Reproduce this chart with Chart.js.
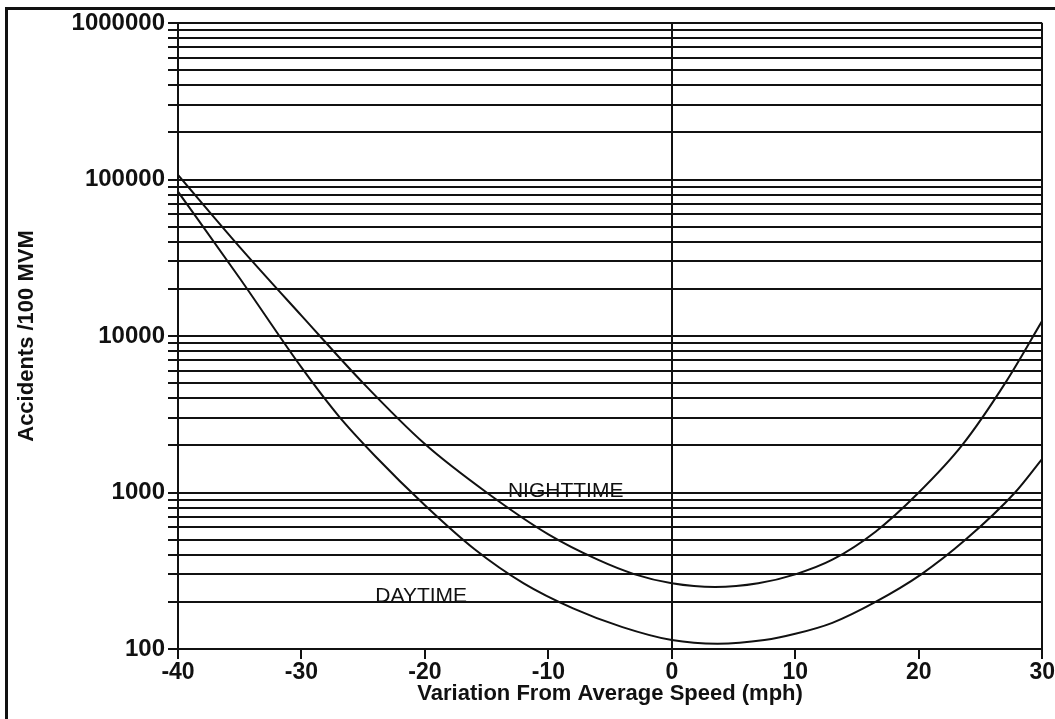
<!DOCTYPE html>
<html>
<head>
<meta charset="utf-8">
<title>Accidents vs speed variation</title>
<script src="https://cdn.jsdelivr.net/npm/chart.js@4.4.1/dist/chart.umd.min.js"></script>
<style>
  html, body { margin: 0; padding: 0; background: #fff; }
  #wrap { position: relative; width: 1055px; height: 719px; overflow: hidden; }
  #frame { position: absolute; left: 5px; top: 7px; width: 1100px; height: 800px;
           border-left: 3px solid #111; border-top: 3px solid #111; pointer-events: none; }
  canvas { display: block; }
</style>
</head>
<body>
<div id="wrap">
  <canvas id="speedChart" width="1055" height="719"></canvas>
  <div id="frame"></div>
</div>
<script>
// speed variation (mph) and accident rate (per 100 MVM)
const nightSpeed = [-40, -35, -30, -25, -20, -15, -10, -6, -3, 0, 3.5, 7, 10, 13, 16.5, 20, 23.5, 27, 30];
const nightRate  = [107000, 37000, 13500, 5000, 2040, 1000, 540, 372, 300, 263, 249, 263, 300, 372, 562, 1000, 2000, 5000, 12500];

const daySpeed = [-40, -35, -30, -27, -24, -20, -16, -12, -8, -4, 0, 3.7, 7.5, 10, 13, 16.5, 20.2, 23.8, 27.8, 30];
const dayRate  = [83600, 23400, 6300, 3090, 1700, 830, 436, 263, 182, 138, 114, 108, 114, 125, 147, 200, 300, 500, 1000, 1640];

const xTicks = [-40, -30, -20, -10, 0, 10, 20, 30];
const yGridValues = [
  100, 200, 300, 400, 500, 600, 700, 800, 900,
  1000, 2000, 3000, 4000, 5000, 6000, 7000, 8000, 9000,
  10000, 20000, 30000, 40000, 50000, 60000, 70000, 80000, 90000,
  100000, 200000, 300000, 400000, 500000, 600000, 700000, 800000, 900000,
  1000000
];
const yTickLabels = [100, 1000, 10000, 100000, 1000000];

const ink = '#111';
const family = "'Liberation Sans', Arial, Helvetica, sans-serif";

// curve names written on the plot
const curveNotes = {
  id: 'curveNotes',
  afterDatasetsDraw(chart) {
    const { ctx, scales: { x, y } } = chart;
    const notes = [
      { text: 'NIGHTTIME', at: -8.6, rate: 935 },
      { text: 'DAYTIME', at: -20.3, rate: 200 }
    ];
    ctx.save();
    ctx.font = '21px ' + family;
    ctx.fillStyle = ink;
    ctx.textAlign = 'center';
    ctx.textBaseline = 'alphabetic';
    notes.forEach(n => ctx.fillText(n.text, x.getPixelForValue(n.at), y.getPixelForValue(n.rate)));
    ctx.restore();
  }
};

const toPoints = (xs, ys) => xs.map((v, i) => ({ x: v, y: ys[i] }));

new Chart(document.getElementById('speedChart'), {
  type: 'line',
  data: {
    datasets: [
      {
        label: 'Nighttime',
        data: toPoints(nightSpeed, nightRate),
        borderColor: ink,
        borderWidth: 2,
        pointRadius: 0,
        fill: false,
        cubicInterpolationMode: 'monotone'
      },
      {
        label: 'Daytime',
        data: toPoints(daySpeed, dayRate),
        borderColor: ink,
        borderWidth: 2,
        pointRadius: 0,
        fill: false,
        cubicInterpolationMode: 'monotone'
      }
    ]
  },
  options: {
    responsive: false,
    animation: false,
    devicePixelRatio: 1,
    layout: { padding: { top: 23, right: 0, bottom: 0, left: 0 } },
    plugins: {
      legend: { display: false },
      tooltip: { enabled: false }
    },
    scales: {
      x: {
        type: 'linear',
        min: -40,
        max: 30,
        afterBuildTicks: scale => { scale.ticks = xTicks.map(v => ({ value: v })); },
        afterFit: scale => { scale.height = 70; },
        ticks: {
          autoSkip: false,
          maxRotation: 0,
          padding: 0,
          color: ink,
          font: { family, size: 23, weight: 'bold' }
        },
        grid: {
          color: c => (c.tick && (c.tick.value === 0 || c.tick.value === 30)) ? ink : 'rgba(0,0,0,0)',
          lineWidth: 2,
          tickColor: ink,
          tickLength: 10
        },
        border: { display: true, color: ink, width: 2 },
        title: {
          display: true,
          text: 'Variation From Average Speed (mph)',
          color: ink,
          font: { family, size: 22, weight: 'bold' },
          padding: { top: 0, bottom: 12 }
        }
      },
      y: {
        type: 'logarithmic',
        min: 100,
        max: 1000000,
        afterBuildTicks: scale => { scale.ticks = yGridValues.map(v => ({ value: v })); },
        afterFit: scale => { scale.width = 178; },
        ticks: {
          autoSkip: false,
          padding: 3,
          color: ink,
          font: { family, size: 24, weight: 'bold' },
          callback: v => yTickLabels.includes(v) ? String(v) : ''
        },
        grid: {
          color: ink,
          lineWidth: 2,
          tickColor: ink,
          tickLength: 10
        },
        border: { display: true, color: ink, width: 2 },
        title: {
          display: true,
          text: 'Accidents /100 MVM',
          color: ink,
          font: { family, size: 22, weight: 'bold' },
          padding: { top: 14, bottom: 0 }
        }
      }
    }
  },
  plugins: [curveNotes]
});
</script>
</body>
</html>
